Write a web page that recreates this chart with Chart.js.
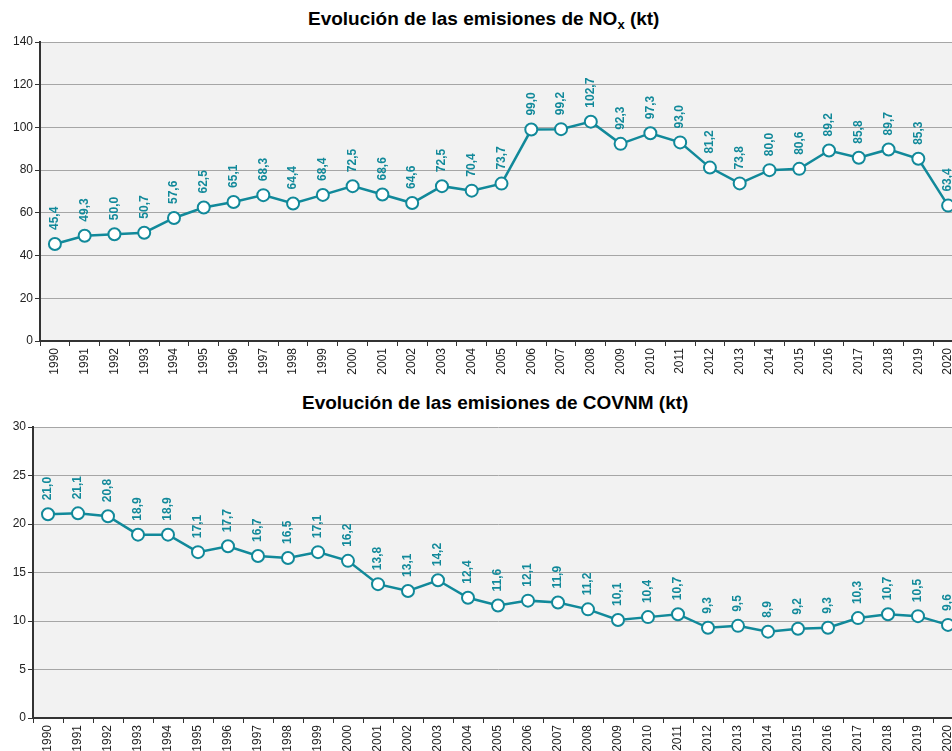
<!DOCTYPE html>
<html>
<head>
<meta charset="utf-8">
<script src="https://cdn.jsdelivr.net/npm/chart.js@4/dist/chart.umd.min.js"></script>
<style>
  html, body { margin: 0; padding: 0; background: #fff; overflow: hidden; width: 952px; height: 751px; }
  .title { position: absolute; font: bold 19px "Liberation Sans", Arial, sans-serif; color: #000; white-space: nowrap; }
  .title sub { font-size: 13px; vertical-align: -4px; line-height: 0; }
  canvas { position: absolute; left: 0; }
</style>
</head>
<body>
<div class="title" id="t1" style="left:308px; top:8px;">Evolución de las emisiones de NO<sub>x</sub> (kt)</div>
<div class="title" id="t2" style="left:302px; top:392px;">Evolución de las emisiones de COVNM (kt)</div>
<canvas id="c1" width="971" height="400" style="top:0px"></canvas>
<canvas id="c2" width="971" height="392" style="top:385px"></canvas>
<script>
var YEARS = ['1990','1991','1992','1993','1994','1995','1996','1997','1998','1999','2000',
  '2001','2002','2003','2004','2005','2006','2007','2008','2009','2010',
  '2011','2012','2013','2014','2015','2016','2017','2018','2019','2020'];

var NOX = [45.4, 49.3, 50.0, 50.7, 57.6, 62.5, 65.1, 68.3, 64.4, 68.4, 72.5,
  68.6, 64.6, 72.5, 70.4, 73.7, 99.0, 99.2, 102.7, 92.3, 97.3,
  93.0, 81.2, 73.8, 80.0, 80.6, 89.2, 85.8, 89.7, 85.3, 63.4];

var COVNM = [21.0, 21.1, 20.8, 18.9, 18.9, 17.1, 17.7, 16.7, 16.5, 17.1, 16.2,
  13.8, 13.1, 14.2, 12.4, 11.6, 12.1, 11.9, 11.2, 10.1, 10.4,
  10.7, 9.3, 9.5, 8.9, 9.2, 9.3, 10.3, 10.7, 10.5, 9.6];

var TEAL = '#11899a';
var FONT = '"Liberation Sans", Arial, sans-serif';

// grey plot background
var plotBg = {
  id: 'plotBg',
  beforeDraw: function(chart) {
    var a = chart.chartArea, ctx = chart.ctx;
    ctx.save();
    ctx.fillStyle = '#f2f2f2';
    ctx.fillRect(a.left, a.top, a.right - a.left, a.bottom - a.top);
    ctx.restore();
  }
};

// vertical value labels above each point, comma decimal
var valueLabels = {
  id: 'valueLabels',
  afterDatasetsDraw: function(chart) {
    var ctx = chart.ctx;
    var meta = chart.getDatasetMeta(0);
    var data = chart.data.datasets[0].data;
    ctx.save();
    ctx.fillStyle = TEAL;
    ctx.font = 'bold 12px ' + FONT;
    ctx.textAlign = 'left';
    ctx.textBaseline = 'middle';
    meta.data.forEach(function(pt, i) {
      ctx.save();
      ctx.translate(pt.x, pt.y - 14);
      ctx.rotate(-Math.PI / 2);
      ctx.fillText(data[i].toFixed(1).replace('.', ','), 0, 0);
      ctx.restore();
    });
    ctx.restore();
  }
};

function makeChart(id, values, max, step, yWidth) {
  return new Chart(document.getElementById(id), {
    type: 'line',
    data: {
      labels: YEARS,
      datasets: [{
        data: values,
        borderColor: TEAL,
        borderWidth: 2.5,
        pointRadius: 6,
        pointBorderWidth: 2,
        pointBackgroundColor: '#ffffff',
        pointBorderColor: TEAL,
        tension: 0,
        clip: false
      }]
    },
    options: {
      responsive: false,
      animation: false,
      devicePixelRatio: 1,
      layout: { padding: { top: 42, right: 0, left: 0, bottom: 0 } },
      plugins: { legend: { display: false }, title: { display: false }, tooltip: { enabled: false } },
      scales: {
        x: {
          type: 'category',
          offset: true,
          afterFit: function(s) { s.height = 59; },
          grid: { offset: true, drawOnChartArea: false, drawTicks: true, tickLength: 5, tickColor: '#333', tickWidth: 1 },
          border: { color: '#333', width: 2 },
          ticks: { minRotation: 90, maxRotation: 90, autoSkip: false, padding: 2, color: '#222', font: { family: FONT, size: 12 } }
        },
        y: {
          min: 0, max: max,
          afterFit: function(s) { s.width = yWidth; },
          grid: { color: '#a6a6a6', lineWidth: 1, tickLength: 5, tickColor: '#333' },
          border: { color: '#333', width: 2 },
          ticks: { stepSize: step, padding: 2, color: '#222', font: { family: FONT, size: 12 } }
        }
      }
    },
    plugins: [plotBg, valueLabels]
  });
}

makeChart('c1', NOX, 140, 20, 40);
makeChart('c2', COVNM, 30, 5, 33);
</script>
</body>
</html>
